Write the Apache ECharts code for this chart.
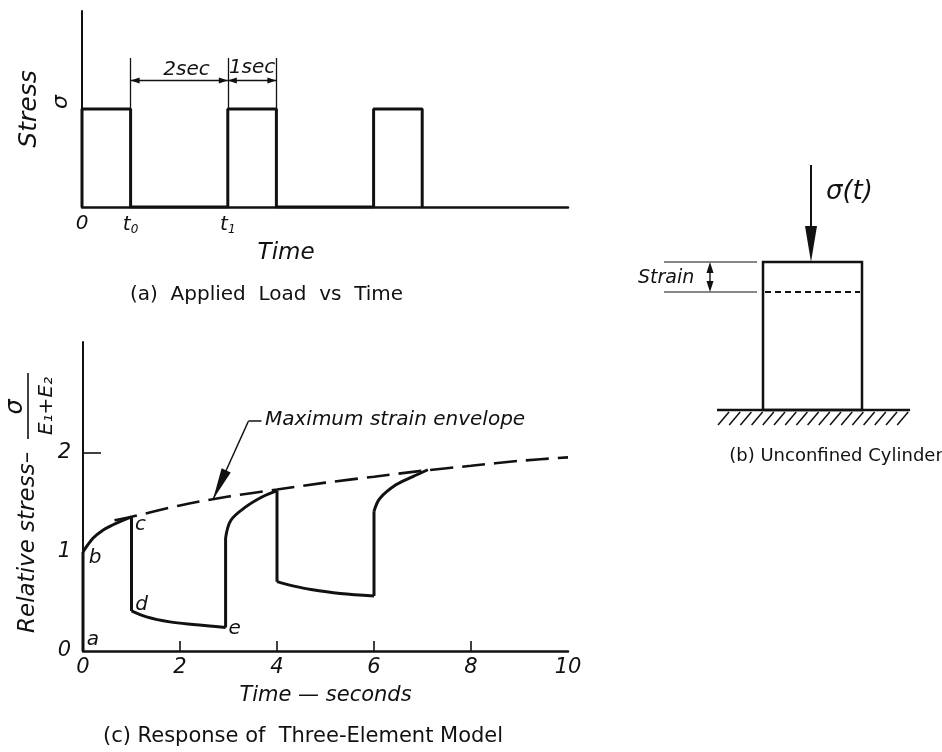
<!DOCTYPE html>
<html>
<head>
<meta charset="utf-8">
<script src="https://cdn.jsdelivr.net/npm/echarts@6/dist/echarts.min.js"></script>
<style>
  html, body { margin: 0; padding: 0; background: #fff; }
  #chart { width: 942px; height: 752px; }
</style>
</head>
<body>
<div id="chart"></div>
<script>
// (a) applied load: rectangular stress pulses (time in s, stress in units of sigma)
const loadTime   = [0, 0, 1, 1, 3, 3, 4, 4, 6, 6, 7, 7];
const loadStress = [0, 1, 1, 0, 0, 1, 1, 0, 0, 1, 1, 0];
const loadTickValues = [0, 1, 3];
const loadTickLabels = ['0', 't{s|0}', 't{s|1}'];
// dimension spans drawn above the pulses
const spanStart = [1, 3];
const spanEnd   = [3, 4];
const spanText  = ['2sec', '1sec'];
const spanTextX = [2.15, 3.5];

// (c) response of the three-element model, relative strain vs time
const responseStart = [0, 0];
const loadBranch1   = [[0, 1], [0.21, 1.14], [0.41, 1.22], [0.62, 1.275], [0.82, 1.32], [1, 1.355]];
const unloadBranch1 = [[1, 0.405], [1.31, 0.345], [1.79, 0.294], [2.27, 0.267], [2.94, 0.237]];
const loadBranch2   = [[2.94, 1.14], [3.05, 1.32], [3.37, 1.46], [3.71, 1.56], [4, 1.62]];
const unloadBranch2 = [[4, 0.70], [4.35, 0.655], [4.7, 0.62], [5.3, 0.58], [6, 0.555]];
const loadBranch3   = [[6, 1.41], [6.12, 1.54], [6.46, 1.68], [6.8, 1.76], [7.11, 1.83]];
const responseBranches = [loadBranch1, unloadBranch1, loadBranch2, unloadBranch2, loadBranch3];
const pointNames = ['a', 'b', 'c', 'd', 'e'];

// maximum strain envelope
const envelopeTime  = [0.65, 1, 2, 3, 4, 5, 6, 7, 8, 9, 10];
const envelopeValue = [1.32, 1.355, 1.47, 1.56, 1.63, 1.70, 1.76, 1.82, 1.87, 1.92, 1.955];

const responseTicks = [0, 2, 4, 6, 8, 10];
const responseYLabels = [0, 1, 2];

const INK = '#111';
const FONT = 'DejaVu Sans';

// arrowhead whose tip sits at the centre of its symbol box
const arrowTip = 'path://M5,0M5,20L9.5,40L0.5,40Z';

const chart = echarts.init(document.getElementById('chart'), null, { renderer: 'canvas' });

const pulseData = loadTime.map((t, i) => [t, loadStress[i]]);
const envelopeData = envelopeTime.map((t, i) => [t, envelopeValue[i]]);

// vertical jumps between branches
const jumps = [];
let prev = responseStart;
responseBranches.forEach(br => {
  jumps.push([prev, br[0]]);
  prev = br[br.length - 1];
});

const extLines = [];
[spanStart[0], spanEnd[0], spanEnd[1]].forEach(x => {
  extLines.push([{ coord: [x, 1], symbol: 'none' }, { coord: [x, 1.52], symbol: 'none' }]);
});
const spanLines = spanStart.map((s, i) => [
  { coord: [s, 1.29], symbol: arrowTip, symbolSize: [6, 18] },
  { coord: [spanEnd[i], 1.29], symbol: arrowTip, symbolSize: [6, 18] }
]);

const labelFont = { fontFamily: FONT, fontStyle: 'italic', color: INK };

const series = [
  {
    type: 'line', xAxisIndex: 0, yAxisIndex: 0, data: pulseData,
    symbol: 'none', lineStyle: { color: INK, width: 3 }, z: 3,
    markLine: {
      silent: true, animation: false,
      label: { show: false },
      lineStyle: { color: INK, width: 1.3, type: 'solid' },
      data: extLines.concat(spanLines)
    },
    markPoint: {
      silent: true, animation: false,
      symbol: 'circle', symbolSize: 1, itemStyle: { color: 'transparent' },
      label: Object.assign({ show: true, formatter: '{b}', fontSize: 20, position: 'inside' }, labelFont),
      data: spanText.map((txt, i) => ({ name: txt, coord: [spanTextX[i], i === 0 ? 1.40 : 1.42] }))
    }
  },
  {
    type: 'line', xAxisIndex: 1, yAxisIndex: 1, data: envelopeData,
    smooth: 0.3, symbol: 'none', z: 2,
    lineStyle: { color: INK, width: 2.6, type: [23, 9] },
    markLine: {
      silent: true, animation: false,
      label: { show: false },
      lineStyle: { color: INK, width: 1.5, type: 'solid' },
      data: [
        [{ coord: [3.68, 2.32], symbol: 'none' }, { coord: [3.41, 2.32], symbol: 'none' }],
        [{ coord: [3.41, 2.32], symbol: 'none' }, { coord: [2.68, 1.53], symbol: arrowTip, symbolSize: [10, 64] }]
      ]
    },
    markPoint: {
      silent: true, animation: false,
      symbol: 'circle', symbolSize: 1, itemStyle: { color: 'transparent' },
      label: Object.assign({ show: true, formatter: '{b}', fontSize: 20, position: 'right', distance: 3 }, labelFont),
      data: [{ name: 'Maximum strain envelope', coord: [3.68, 2.33] }]
    }
  }
];

responseBranches.forEach(br => {
  series.push({
    type: 'line', xAxisIndex: 1, yAxisIndex: 1, data: br,
    smooth: 0.35, symbol: 'none', z: 3,
    lineStyle: { color: INK, width: 3 }
  });
});

jumps.forEach(seg => {
  series.push({
    type: 'line', xAxisIndex: 1, yAxisIndex: 1, data: seg,
    symbol: 'none', z: 3,
    lineStyle: { color: INK, width: 3 }
  });
});

// letters marking the key points of the response
const letterPts = [responseStart, loadBranch1[0], loadBranch1[loadBranch1.length - 1], unloadBranch1[0], unloadBranch1[unloadBranch1.length - 1]];
const letterOffsets = [[10, -11], [12, 6], [9, 8], [10, -6], [9, 1]];
series.push({
  type: 'line', xAxisIndex: 1, yAxisIndex: 1, data: [],
  markPoint: {
    silent: true, animation: false,
    symbol: 'circle', symbolSize: 1, itemStyle: { color: 'transparent' },
    label: Object.assign({ show: true, formatter: '{b}', fontSize: 20, position: 'inside' }, labelFont),
    data: letterPts.map((p, i) => ({ name: pointNames[i], coord: p, label: { offset: letterOffsets[i] } }))
  }
});

const axisLineStyle = { color: INK, width: 2.5 };

const option = {
  animation: false,
  backgroundColor: '#fff',
  grid: [
    { left: 82, top: 11, width: 486, height: 196 },
    { left: 83, top: 342, width: 485, height: 309 }
  ],
  xAxis: [
    {
      gridIndex: 0, type: 'value', min: 0, max: 10,
      axisLine: { lineStyle: axisLineStyle },
      axisTick: { show: false }, splitLine: { show: false },
      axisLabel: Object.assign({
        customValues: loadTickValues,
        fontSize: 20, margin: 7,
        formatter: v => loadTickLabels[loadTickValues.indexOf(v)],
        rich: { s: Object.assign({ fontSize: 12, padding: [10, 0, 0, 0] }, labelFont) }
      }, labelFont)
    },
    {
      gridIndex: 1, type: 'value', min: 0, max: 10, interval: 2,
      axisLine: { lineStyle: axisLineStyle },
      axisTick: { show: true, inside: true, length: 10, customValues: [2, 4, 6, 8], lineStyle: { color: INK, width: 1.6 } },
      splitLine: { show: false },
      axisLabel: Object.assign({ customValues: responseTicks, fontSize: 21, margin: 6 }, labelFont),
      name: 'Time — seconds', nameLocation: 'middle', nameGap: 34,
      nameTextStyle: Object.assign({ fontSize: 21 }, labelFont)
    }
  ],
  yAxis: [
    {
      gridIndex: 0, type: 'value', min: 0, max: 2,
      axisLine: { show: true, lineStyle: { color: INK, width: 2 } },
      axisTick: { show: false }, splitLine: { show: false },
      axisLabel: Object.assign({ customValues: [1], formatter: () => 'σ', rotate: 90, fontSize: 22, margin: 10, padding: [0, 0, 0, 14] }, labelFont),
      name: 'Stress', nameLocation: 'middle', nameRotate: 90, nameGap: 23,
      nameTextStyle: Object.assign({ fontSize: 25 }, labelFont)
    },
    {
      gridIndex: 1, type: 'value', min: 0, max: 3.12,
      axisLine: { show: true, lineStyle: { color: INK, width: 2 } },
      axisTick: { show: true, inside: true, length: 18, customValues: [2], lineStyle: { color: INK, width: 1.6 } },
      splitLine: { show: false },
      axisLabel: Object.assign({ customValues: responseYLabels, fontSize: 21, margin: 12 }, labelFont)
    }
  ],
  series: series,
  graphic: []
};

chart.setOption(option);

// captions, the rotated y-axis title of (c) and the cylinder sketch (b)
const txt = (x, y, text, size, italic, align) => ({
  type: 'text', x: x, y: y, silent: true,
  style: {
    text: text, fill: INK,
    font: (italic ? 'italic ' : '') + size + 'px "DejaVu Sans"',
    align: align || 'left', verticalAlign: 'middle',
    textAlign: align || 'left', textVerticalAlign: 'middle'
  }
});
const seg = (x1, y1, x2, y2, w, dash) => ({
  type: 'line', silent: true,
  shape: { x1: x1, y1: y1, x2: x2, y2: y2 },
  style: { stroke: INK, lineWidth: w, lineDash: dash || null }
});
const tri = pts => ({ type: 'polygon', silent: true, shape: { points: pts }, style: { fill: INK } });

const timeLabelPos = chart.convertToPixel({ xAxisIndex: 0 }, 4.2);

const graphics = [
  txt(timeLabelPos, 253, 'Time', 23, true, 'center'),
  txt(130, 295, '(a)  Applied  Load  vs  Time', 20, false),
  txt(103, 737, '(c) Response of  Three-Element Model', 21, false),
  {
    type: 'group', x: 28, y: 633, rotation: Math.PI / 2, silent: true,
    children: [
      txt(0, 0, 'Relative stress–', 23, true),
      txt(226, -12, 'σ', 24, true, 'center'),
      seg(194, 0, 260, 0, 1.6),
      txt(227, 19, 'E₁+E₂', 20, true, 'center')
    ]
  },
  // load arrow and label
  seg(811, 165, 811, 232, 2),
  tri([[805, 226], [817, 226], [811, 262]]),
  txt(826, 192, 'σ(t)', 26, true),
  // cylinder
  { type: 'rect', silent: true, shape: { x: 763, y: 262, width: 99, height: 148 }, style: { fill: 'none', stroke: INK, lineWidth: 2.5 } },
  seg(765, 292, 860, 292, 2, [6, 4]),
  // base with hatching
  seg(717, 410, 910, 410, 2.5),
  // strain dimension
  seg(664, 262, 757, 262, 1.2),
  seg(664, 292, 757, 292, 1.2),
  seg(710, 268, 710, 286, 1.4),
  tri([[706.5, 273], [713.5, 273], [710, 262]]),
  tri([[706.5, 281], [713.5, 281], [710, 292]]),
  txt(638, 278, 'Strain', 19, true),
  txt(836, 456, '(b) Unconfined Cylinder', 18, false, 'center')
];
for (let i = 0; i < 17; i++) {
  const x = 718 + i * 11.2;
  graphics.push(seg(x, 425, x + 11, 412, 1.5));
}

chart.setOption({ graphic: graphics });
</script>
</body>
</html>
